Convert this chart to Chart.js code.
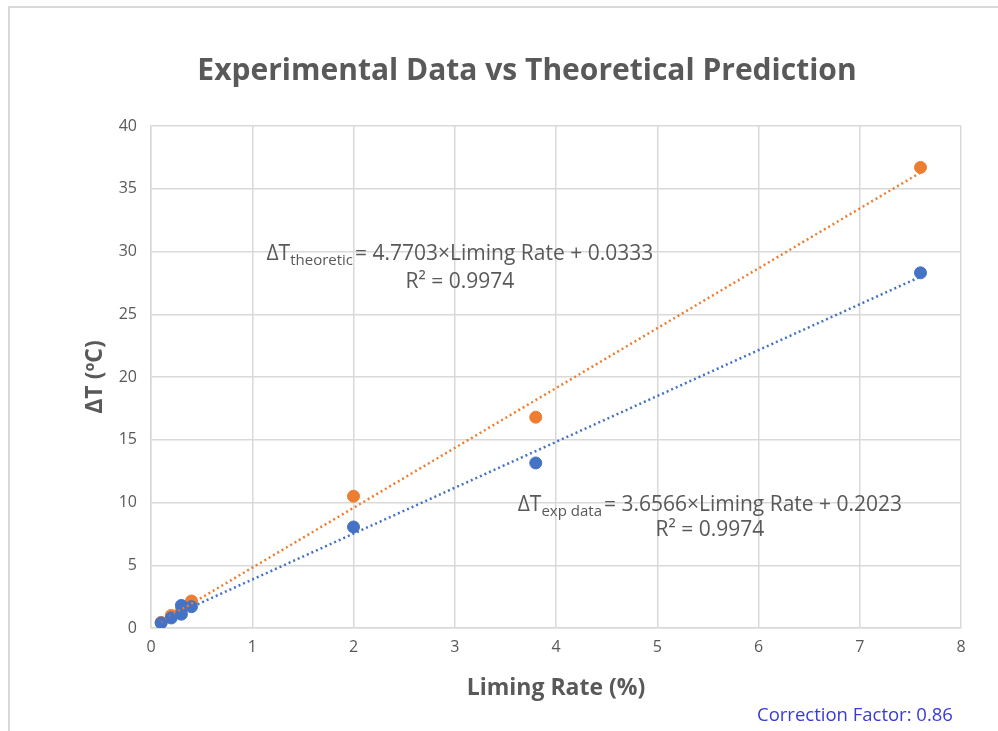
<!DOCTYPE html>
<html>
<head>
<meta charset="utf-8">
<script src="https://cdn.jsdelivr.net/npm/chart.js@4/dist/chart.umd.min.js"></script>
<style>
  body { margin: 0; background: #fff; overflow: hidden; }
  #frame { position: absolute; left: 8px; top: 6px; width: 1100px; height: 800px; border: 2px solid #d9d9d9; }
  #chart { position: absolute; left: 0; top: 0; }
  #factor { position: absolute; left: 757px; top: 701px; font: 18.5px "Open Sans", sans-serif; color: #3a3ad8; }
</style>
</head>
<body>
<div id="frame"></div>
<canvas id="chart" width="998" height="731"></canvas>
<div id="factor">Correction Factor: 0.86</div>
<script>
// Data
const expX = [0.1, 0.2, 0.3, 0.3, 0.4, 2, 3.8, 7.6];
const expY = [0.4, 0.8, 1.8, 1.1, 1.7, 8.05, 13.15, 28.3];
const theoX = [0.1, 0.2, 0.3, 0.4, 2, 3.8, 7.6];
const theoY = [0.45, 1.0, 1.4, 2.15, 10.5, 16.8, 36.7];

// trendline ends (x from 0.1 to 7.6)
const trendX = [0.1, 7.6];
const expTrendY = [0.57, 27.99];
const theoTrendY = [0.51, 36.29];

const xTicks = [0, 1, 2, 3, 4, 5, 6, 7, 8];
const yTicks = [0, 5, 10, 15, 20, 25, 30, 35, 40];

const chartTitle = 'Experimental Data vs Theoretical Prediction';
const xTitle = 'Liming Rate (%)';
const yTitle = 'ΔT (ºC)';

const blue = '#4472C4';
const orange = '#ED7D31';
const grey = '#595959';
const FONT = '"Open Sans", sans-serif';

const toPoints = (xs, ys) => xs.map((x, i) => ({ x: x, y: ys[i] }));

// equation labels, anchored in data units
const equations = [
  { sub: 'theoretic', text: '= 4.7703×Liming Rate + 0.0333', r2: 'R² = 0.9974', x: 3.05, y: 29.8, y2: 27.6 },
  { sub: 'exp data', text: '= 3.6566×Liming Rate + 0.2023', r2: 'R² = 0.9974', x: 5.52, y: 9.8, y2: 7.8 }
];

const labelsPlugin = {
  id: 'labels',
  afterDraw(chart) {
    const ctx = chart.ctx;
    const xs = chart.scales.x, ys = chart.scales.y;
    ctx.save();
    // title
    ctx.fillStyle = grey;
    ctx.font = 'bold 30px ' + FONT;
    ctx.textAlign = 'center';
    ctx.textBaseline = 'middle';
    ctx.fillText(chartTitle, 527, 71);

    equations.forEach(eq => {
      const cx = xs.getPixelForValue(eq.x);
      const cy = ys.getPixelForValue(eq.y);
      const big = '21px ' + FONT, small = '15px ' + FONT;
      ctx.font = big;
      const w1 = ctx.measureText('ΔT').width;
      const w3 = ctx.measureText(eq.text).width;
      ctx.font = small;
      const w2 = ctx.measureText(eq.sub).width + 2;
      let x0 = cx - (w1 + w2 + w3) / 2;
      ctx.textAlign = 'left';
      ctx.textBaseline = 'middle';
      ctx.font = big;
      ctx.fillText('ΔT', x0, cy);
      ctx.font = small;
      ctx.fillText(eq.sub, x0 + w1, cy + 7);
      ctx.font = big;
      ctx.fillText(eq.text, x0 + w1 + w2, cy);
      ctx.textAlign = 'center';
      ctx.fillText(eq.r2, cx, ys.getPixelForValue(eq.y2));
    });
    ctx.restore();
  }
};

new Chart(document.getElementById('chart'), {
  type: 'scatter',
  data: {
    datasets: [
      {
        label: 'exp trend',
        data: toPoints(trendX, expTrendY),
        showLine: true,
        borderColor: blue,
        borderWidth: 2.5,
        borderDash: [2, 3],
        pointRadius: 0
      },
      {
        label: 'theoretic trend',
        data: toPoints(trendX, theoTrendY),
        showLine: true,
        borderColor: orange,
        borderWidth: 2.5,
        borderDash: [2, 3],
        pointRadius: 0
      },
      {
        label: 'Experimental',
        data: toPoints(expX, expY),
        backgroundColor: blue,
        borderColor: blue,
        pointRadius: 6
      },
      {
        label: 'Theoretical',
        data: toPoints(theoX, theoY),
        backgroundColor: orange,
        borderColor: orange,
        pointRadius: 6
      }
    ]
  },
  options: {
    responsive: false,
    animation: false,
    layout: { padding: { left: 78, top: 126, right: 37, bottom: 25 } },
    plugins: {
      legend: { display: false },
      tooltip: { enabled: false }
    },
    scales: {
      x: {
        type: 'linear',
        min: 0, max: 8,
        afterBuildTicks: s => { s.ticks = xTicks.map(v => ({ value: v })); },
        afterFit: s => { s.height = 78; },
        grid: { color: '#d9d9d9', lineWidth: 1.5, drawTicks: false },
        border: { color: '#d9d9d9', width: 1.5 },
        ticks: { color: grey, font: { size: 16, family: FONT }, padding: 10 },
        title: { display: true, text: xTitle, color: grey, font: { size: 23, weight: 'bold', family: FONT } }
      },
      y: {
        type: 'linear',
        min: 0, max: 40,
        afterBuildTicks: s => { s.ticks = yTicks.map(v => ({ value: v })); },
        afterFit: s => { s.width = 73; },
        grid: { color: '#d9d9d9', lineWidth: 1.5, drawTicks: false },
        border: { color: '#d9d9d9', width: 1.5 },
        ticks: { color: grey, font: { size: 16, family: FONT }, padding: 14 },
        title: { display: true, text: yTitle, color: grey, font: { size: 23, weight: 'bold', family: FONT } }
      }
    }
  },
  plugins: [labelsPlugin]
});
</script>
</body>
</html>
